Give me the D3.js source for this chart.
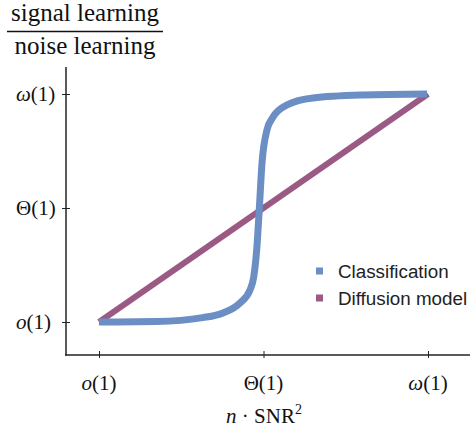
<!DOCTYPE html>
<html>
<head>
<meta charset="utf-8">
<script src="https://cdn.jsdelivr.net/npm/d3@7"></script>
<style>
  html, body { margin: 0; padding: 0; background: #fff; }
  svg { display: block; }
</style>
</head>
<body>
<svg id="chart" width="474" height="428"></svg>
<script>
// ---- data (0 = o(1), 1 = Θ(1), 2 = ω(1)) ----
const tickValues = [0, 1, 2];
const tickLabels = [["o", "(1)", true], ["Θ", "(1)", false], ["ω", "(1)", true]];
const seriesNames = ["Classification", "Diffusion model"];
const seriesColors = ["#6b8ec4", "#9a5a84"];

const classX = [0, 0.35, 0.63, 0.754, 0.857, 0.918, 0.94, 0.96, 0.973, 0.991, 1.021, 1.058, 1.143, 1.301, 1.605, 1.994];
const classY = [0, 0.004, 0.038, 0.079, 0.167, 0.281, 0.39, 0.658, 0.956, 1.395, 1.684, 1.798, 1.904, 1.965, 1.991, 2.0];

const diffX = [0, 2];
const diffY = [0, 2];

// ---- layout ----
const svg = d3.select("#chart");
const x = d3.scaleLinear().domain([0, 2]).range([99, 428]);
const y = d3.scaleLinear().domain([0, 2]).range([322, 94]);
const axisX0 = 66, axisXEnd = 470, axisY0 = 355, axisYTop = 67;
const serif = "'Liberation Serif', 'DejaVu Serif', serif";

// axes lines
svg.append("line").attr("x1", axisX0).attr("x2", axisX0).attr("y1", axisYTop).attr("y2", axisY0 + 0.75)
  .attr("stroke", "#222").attr("stroke-width", 1.5);
svg.append("line").attr("x1", axisX0 - 0.75).attr("x2", axisXEnd).attr("y1", axisY0).attr("y2", axisY0)
  .attr("stroke", "#222").attr("stroke-width", 1.5);

// x axis ticks
const gx = svg.append("g").attr("transform", `translate(0,${axisY0})`)
  .call(d3.axisBottom(x).tickValues(tickValues).tickSize(4).tickFormat(() => ""));
gx.select(".domain").remove();
gx.selectAll(".tick line").attr("y1", -4).attr("y2", 3).attr("stroke", "#222").attr("stroke-width", 1);

// y axis ticks
const gy = svg.append("g").attr("transform", `translate(${axisX0},0)`)
  .call(d3.axisLeft(y).tickValues(tickValues).tickSize(4).tickFormat(() => ""));
gy.select(".domain").remove();
gy.selectAll(".tick line").attr("x1", -4).attr("x2", 4).attr("stroke", "#222").attr("stroke-width", 1);

function mathLabel(sel, i) {
  const [sym, rest, ital] = tickLabels[i];
  sel.append("tspan").attr("font-style", ital ? "italic" : "normal").text(sym);
  sel.append("tspan").text(rest);
}

// x tick labels
tickValues.forEach((v, i) => {
  const t = svg.append("text").attr("x", x(v)).attr("y", 390)
    .attr("text-anchor", "middle").attr("font-family", serif).attr("font-size", 21).attr("fill", "#111");
  mathLabel(t, i);
});
// y tick labels
tickValues.forEach((v, i) => {
  const t = svg.append("text").attr("x", 16).attr("y", y(v) + 7)
    .attr("text-anchor", "start").attr("font-family", serif).attr("font-size", 21).attr("fill", "#111");
  mathLabel(t, i);
});

// x axis title: n · SNR^2
const xt = svg.append("text").attr("x", 264).attr("y", 423).attr("text-anchor", "middle")
  .attr("font-family", serif).attr("font-size", 21).attr("fill", "#111");
xt.append("tspan").attr("font-style", "italic").text("n");
xt.append("tspan").text(" · SNR");
xt.append("tspan").attr("font-size", 14).attr("dy", -9).text("2");

// y axis title: fraction
svg.append("text").attr("x", 85).attr("y", 21).attr("text-anchor", "middle")
  .attr("font-family", serif).attr("font-size", 25).attr("fill", "#111").text("signal learning");
svg.append("line").attr("x1", 7).attr("x2", 163).attr("y1", 31.5).attr("y2", 31.5)
  .attr("stroke", "#111").attr("stroke-width", 1.5);
svg.append("text").attr("x", 85).attr("y", 54).attr("text-anchor", "middle")
  .attr("font-family", serif).attr("font-size", 25).attr("fill", "#111").text("noise learning");

// series
const line = d3.line().x(d => x(d[0])).y(d => y(d[1]));
svg.append("path")
  .datum(diffX.map((v, i) => [v, diffY[i]]))
  .attr("d", line)
  .attr("fill", "none").attr("stroke", seriesColors[1]).attr("stroke-width", 6);
svg.append("path")
  .datum(classX.map((v, i) => [v, classY[i]]))
  .attr("d", line.curve(d3.curveMonotoneX))
  .attr("fill", "none").attr("stroke", seriesColors[0]).attr("stroke-width", 7);

// legend
const legendY = [271, 298];
seriesNames.forEach((name, i) => {
  svg.append("rect").attr("x", 316).attr("y", legendY[i] - 3.5).attr("width", 7).attr("height", 7)
    .attr("fill", seriesColors[i]);
  svg.append("text").attr("x", 338).attr("y", legendY[i] + 6.5)
    .attr("font-family", "'Liberation Sans', Arial, sans-serif").attr("font-size", 18.8).attr("fill", "#222")
    .text(name);
});
</script>
</body>
</html>
